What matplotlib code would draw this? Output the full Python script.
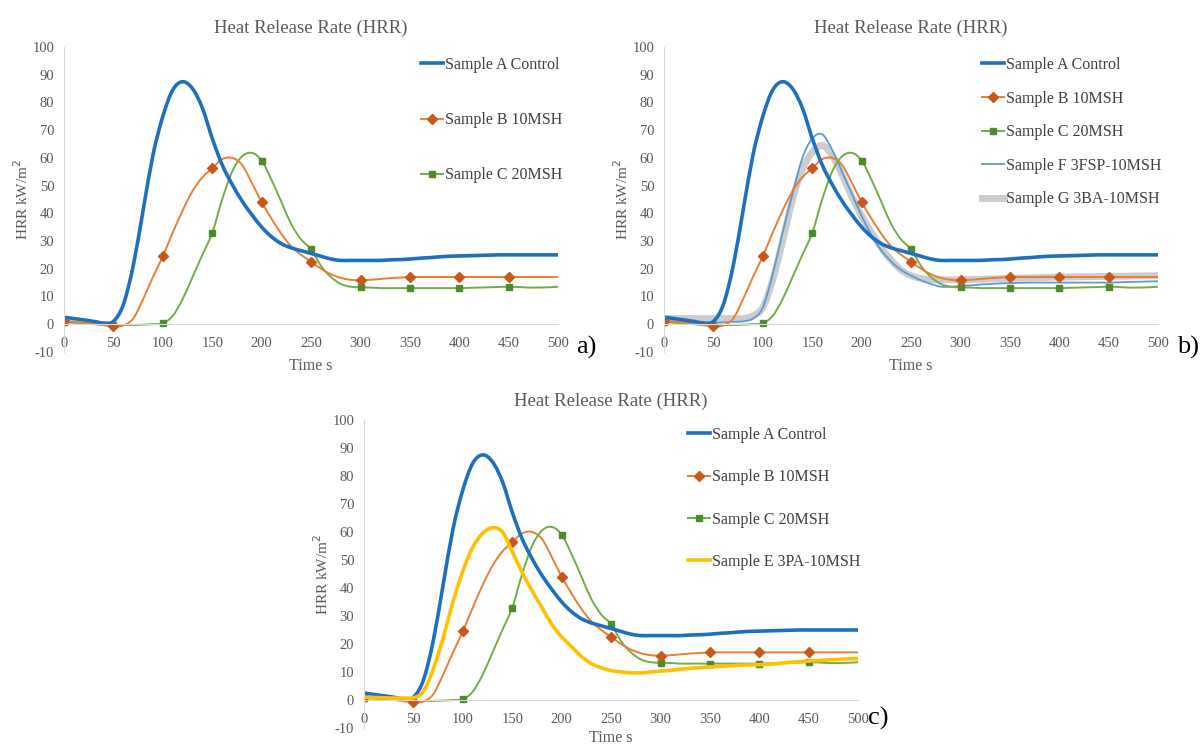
import numpy as np
import matplotlib
matplotlib.use("Agg")
import matplotlib.pyplot as plt
from matplotlib.path import Path
from matplotlib.patches import PathPatch
from matplotlib.lines import Line2D

plt.rcParams['font.family'] = ['Liberation Serif', 'DejaVu Serif']
plt.rcParams['axes.unicode_minus'] = False

# time axis, every 10 s
time_s = list(range(0, 510, 10))

sample_a = [2.5, 2.0, 1.5, 1.0, 0.4, 1.0, 7, 21, 41, 61, 75, 84.5, 87.5, 85, 78, 67,
            57.5, 50.5, 44.5, 39.5, 35, 31.5, 29, 27.5, 26.5, 25.5, 24.5, 23.5, 23, 23,
            23, 23, 23, 23.2, 23.3, 23.5, 23.8, 24, 24.3, 24.5, 24.6, 24.7, 24.8, 24.9,
            25, 25, 25, 25, 25, 25, 25]
sample_b = [1.2, 0.9, 0.5, 0.1, -0.4, -0.8, -0.5, 2, 9, 17, 24.5, 33, 41, 48, 53, 56.3,
            59.5, 60, 57.5, 51, 44, 38, 32.5, 28, 25, 22.5, 20, 18, 16.7, 16, 15.8, 16,
            16.3, 16.6, 16.8, 17, 17, 17, 17, 17, 17, 17, 17, 17, 17, 17, 17, 17, 17, 17, 17]
sample_c = [0.7, 0.5, 0.3, 0.0, -0.2, -0.3, -0.3, -0.3, -0.2, 0.0, 0.3, 3, 9, 17, 25, 33,
            45, 55, 60.5, 61.8, 59, 52, 44, 36, 30.5, 27, 21, 17, 14.5, 13.5, 13.3, 13.2,
            13, 13, 13, 13, 13, 13, 13, 13, 13, 13.1, 13.2, 13.3, 13.4, 13.5, 13.4, 13.2,
            13.2, 13.3, 13.5]
sample_f = [1.0, 0.8, 0.6, 0.5, 0.4, 0.5, 0.6, 0.8, 1.0, 2, 6, 18, 33, 47, 60, 67, 68.5,
            63, 55, 47, 39, 32, 26.5, 22.5, 19.5, 17.5, 15.8, 14.5, 13.5, 13.5, 13.8, 14,
            14.3, 14.5, 14.7, 14.8, 14.9, 15, 15, 15, 15, 15, 15, 15, 15, 15, 15.1, 15.2,
            15.3, 15.4, 15.5]
sample_g = [2, 2, 2, 2, 2, 2, 2, 2, 2, 3, 6, 16, 30, 45, 56, 62, 64.5, 61, 54, 46, 39, 33,
            27.5, 23, 19.5, 17.5, 16.5, 16, 16, 16, 16, 16.1, 16.2, 16.3, 16.4, 16.5, 16.6,
            16.7, 16.8, 16.9, 17, 17, 17.1, 17.1, 17.2, 17.2, 17.3, 17.3, 17.4, 17.4, 17.5]
sample_e = [1.0, 0.9, 0.8, 0.7, 0.7, 0.8, 3, 11, 22, 35, 46, 54.5, 59.5, 61.5, 60, 53,
            45.5, 39, 33, 27, 22.5, 19, 15.5, 13, 11.5, 10.5, 10, 9.7, 9.7, 10, 10.3, 10.6,
            11, 11.3, 11.6, 11.8, 12, 12.2, 12.4, 12.5, 12.6, 12.8, 13.1, 13.4, 13.7, 13.9,
            14.1, 14.3, 14.5, 14.7, 14.8]

x_ticks = [0, 50, 100, 150, 200, 250, 300, 350, 400, 450, 500]
y_ticks = [-10, 0, 10, 20, 30, 40, 50, 60, 70, 80, 90, 100]

BLUE = '#1f6fbf'
ORANGE = '#ed7d31'
ORANGE_DK = '#c9561a'
GREEN = '#70ad47'
GREEN_DK = '#4f8a2c'
LBLUE = '#5b9bd5'
GRAY = '#cccccc'
YELLOW = '#ffc000'
TXT = '#595959'

marks = slice(0, 46, 5)  # markers every 50 s up to 450

# label, values, color, width, marker, marker colour, zorder
STYLES = {
    'A': ('Sample A Control', sample_a, BLUE, 2.6, None, None, 2.2),
    'B': ('Sample B 10MSH', sample_b, ORANGE, 1.4, 'D', ORANGE_DK, 2.1),
    'C': ('Sample C 20MSH', sample_c, GREEN, 1.4, 's', GREEN_DK, 2.0),
    'F': ('Sample F 3FSP-10MSH', sample_f, LBLUE, 1.3, None, None, 1.9),
    'G': ('Sample G 3BA-10MSH', sample_g, GRAY, 5, None, None, 1.8),
    'E': ('Sample E 3PA-10MSH', sample_e, YELLOW, 2.6, None, None, 2.3),
}


def smooth_path(x, y):
    # excel-like smoothed line: bezier segments through the data points
    pts = np.column_stack([x, y]).astype(float)
    n = len(pts)
    verts = [pts[0]]
    codes = [Path.MOVETO]
    for i in range(n - 1):
        p0 = pts[i - 1] if i > 0 else pts[i]
        p1 = pts[i]
        p2 = pts[i + 1]
        p3 = pts[i + 2] if i + 2 < n else pts[i + 1]
        verts += [p1 + (p2 - p0) / 6, p2 - (p3 - p1) / 6, p2]
        codes += [Path.CURVE4] * 3
    return Path(verts, codes)


def draw(ax, series, spacing, leg_xy, tag, tag_xy, xlab_y=-0.02):
    t = np.array(time_s)
    handles = []
    for key in series:
        label, vals, col, lw, mk, mcol, z = STYLES[key]
        ax.add_patch(PathPatch(smooth_path(t, vals), fill=False, edgecolor=col, lw=lw,
                               capstyle='round', joinstyle='round', zorder=z))
        if mk:
            ax.plot(t, vals, ls='none', marker=mk, ms=5, mfc=mcol, mec=mcol,
                    markevery=marks, zorder=z + 0.05)
        handles.append(Line2D([], [], color=col, lw=lw, marker=mk, ms=5,
                              mfc=mcol, mec=mcol, label=label))

    ax.set_xlim(0, 500)
    ax.set_ylim(-10, 100)
    ax.set_xticks(x_ticks)
    ax.set_yticks(y_ticks)
    ax.tick_params(axis='y', length=0, labelsize=10.5, colors=TXT, pad=7)
    ax.tick_params(axis='x', length=0, labelsize=10.5, colors=TXT, pad=9)
    for s in ['top', 'right']:
        ax.spines[s].set_visible(False)
    ax.spines['left'].set_color('#d9d9d9')
    ax.spines['bottom'].set_color('#d9d9d9')
    ax.spines['bottom'].set_position(('data', 0))
    ax.set_title('Heat Release Rate (HRR)', fontsize=13.5, color=TXT, pad=10)
    ax.set_ylabel('HRR kW/m$^2$', fontsize=11, color=TXT)
    ax.yaxis.set_label_coords(-0.067, 0.5)
    ax.set_xlabel('Time s', fontsize=11.5, color=TXT)
    ax.xaxis.set_label_coords(0.5, xlab_y)
    ax.legend(handles=handles, loc='upper left', bbox_to_anchor=leg_xy,
              bbox_transform=ax.figure.transFigure, frameon=False, fontsize=11.5,
              labelcolor='#404040', handlelength=1.4, handletextpad=0.1,
              labelspacing=spacing, borderaxespad=0, borderpad=0)
    ax.figure.text(tag_xy[0], tag_xy[1], tag, fontsize=19, color='black',
                   va='center', ha='left')


fig = plt.figure(figsize=(12, 7.47), dpi=100)
ax_a = fig.add_axes([0.0533, 0.529, 0.412, 0.408])
ax_b = fig.add_axes([0.5533, 0.529, 0.412, 0.408])
ax_c = fig.add_axes([0.3033, 0.0254, 0.412, 0.4125])

draw(ax_a, ['A', 'B', 'C'], 2.45, (421 / 1200, 1 - 57 / 747), 'a)', (576 / 1200, 1 - 347 / 747))
draw(ax_b, ['A', 'B', 'C', 'F', 'G'], 1.1, (982 / 1200, 1 - 57 / 747), 'b)', (1177 / 1200, 1 - 347 / 747))
draw(ax_c, ['A', 'B', 'C', 'E'], 1.65, (688 / 1200, 1 - 427 / 747), 'c)', (868 / 1200, 1 - 718 / 747),
     xlab_y=-0.008)

fig.savefig('out.png', dpi=100)
